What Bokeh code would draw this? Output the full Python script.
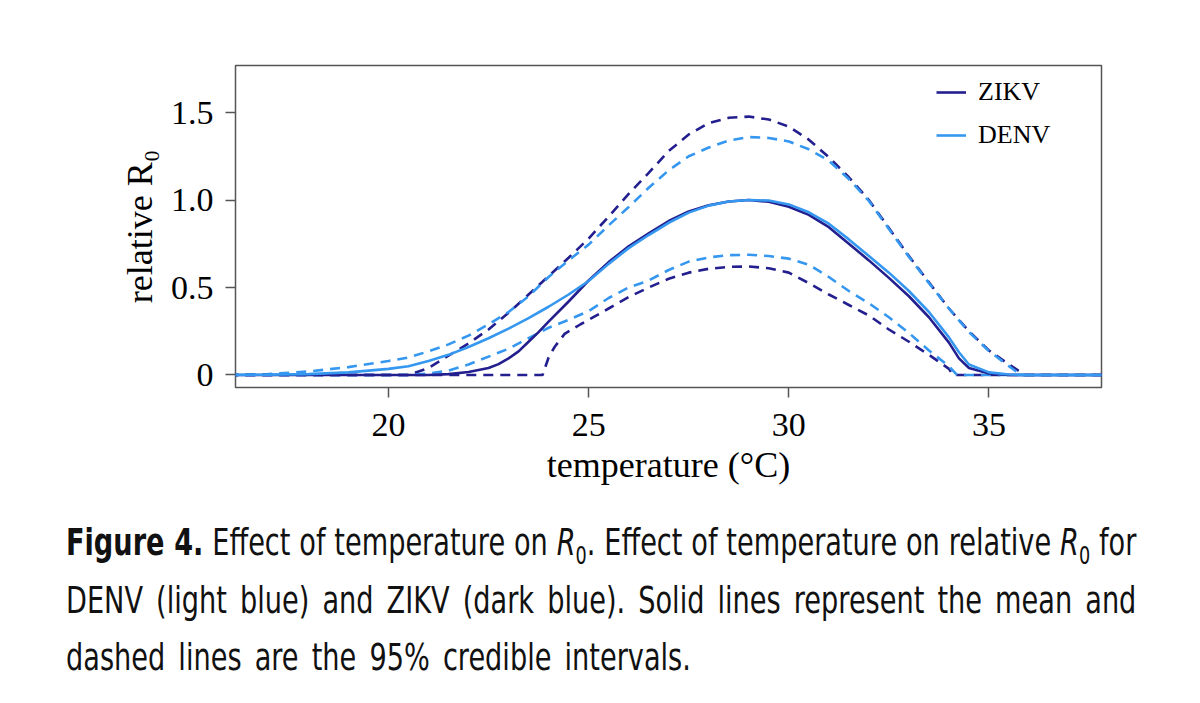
from bokeh.plotting import figure
from bokeh.models import (Range1d, FixedTicker, CustomJSTickFormatter, Legend,
                          LegendItem, Div)
from bokeh.layouts import column
from bokeh.embed import file_html
from bokeh.resources import INLINE

# ---------------- data ----------------
x_ticks = [20, 25, 30, 35]
y_ticks = [0, 0.5, 1.0, 1.5]

# ZIKV mean
zm_t = [16, 21, 21.5, 22, 22.5, 22.75, 23, 23.25, 23.5, 23.75, 24, 24.5, 25, 25.5, 26, 26.5,
        27, 27.5, 28, 28.5, 29, 29.5, 30, 30.5, 31, 31.5, 32, 32.5, 33, 33.5, 34, 34.25,
        34.5, 35, 35.5, 38]
zm_r = [0, 0, 0.005, 0.017, 0.04, 0.062, 0.095, 0.135, 0.19, 0.245, 0.305, 0.42, 0.54,
        0.645, 0.735, 0.81, 0.88, 0.935, 0.97, 0.992, 1.0, 0.99, 0.962, 0.915, 0.845, 0.75,
        0.655, 0.555, 0.45, 0.33, 0.185, 0.095, 0.04, 0.008, 0, 0]

# DENV mean
dm_t = [16, 17, 18, 19, 20, 20.5, 21, 21.5, 22, 22.5, 23, 23.5, 24, 24.5, 25, 25.5, 26,
        26.5, 27, 27.5, 28, 28.5, 29, 29.5, 30, 30.5, 31, 31.5, 32, 32.5, 33, 33.5, 34,
        34.25, 34.5, 35, 35.5, 36, 38]
dm_r = [0, 0.002, 0.005, 0.015, 0.035, 0.05, 0.08, 0.115, 0.16, 0.21, 0.265, 0.325, 0.39,
        0.46, 0.537, 0.635, 0.725, 0.80, 0.87, 0.928, 0.968, 0.992, 1.0, 0.997, 0.975, 0.93,
        0.865, 0.775, 0.68, 0.585, 0.48, 0.36, 0.215, 0.13, 0.06, 0.015, 0.003, 0, 0]

# ZIKV upper 95% CI
zu_t = [16, 20.5, 21, 21.5, 22, 22.5, 23, 23.5, 24, 24.5, 25, 25.5, 26, 26.5, 27, 27.5, 28,
        28.5, 29, 29.5, 30, 30.5, 31, 31.5, 32, 32.5, 33, 33.5, 34, 34.5, 35, 35.5, 35.9, 38]
zu_r = [0, 0, 0.04, 0.11, 0.18, 0.26, 0.355, 0.46, 0.565, 0.67, 0.78, 0.905, 1.035, 1.155,
        1.28, 1.375, 1.44, 1.47, 1.477, 1.46, 1.42, 1.345, 1.245, 1.13, 1.0, 0.84, 0.68,
        0.53, 0.38, 0.25, 0.14, 0.06, 0, 0]

# DENV upper 95% CI
du_t = [16, 17, 18, 19, 20, 20.5, 21, 21.5, 22, 22.5, 23, 23.5, 24, 24.5, 25, 25.5, 26,
        26.5, 27, 27.5, 28, 28.5, 29, 29.5, 30, 30.5, 31, 31.5, 32, 32.5, 33, 33.5, 34,
        34.5, 35, 35.5, 35.8, 38]
du_r = [0, 0.005, 0.02, 0.045, 0.08, 0.1, 0.135, 0.175, 0.225, 0.29, 0.36, 0.45, 0.56,
        0.655, 0.745, 0.855, 0.96, 1.07, 1.17, 1.25, 1.30, 1.34, 1.36, 1.355, 1.335, 1.29,
        1.225, 1.12, 0.995, 0.835, 0.675, 0.525, 0.38, 0.245, 0.137, 0.05, 0, 0]

# DENV lower 95% CI
dl_t = [16, 20.5, 21, 21.5, 22, 22.5, 23, 23.5, 24, 24.5, 25, 25.5, 26, 26.5, 27, 27.5,
        28, 28.5, 29, 29.5, 30, 30.5, 31, 31.5, 32, 32.5, 33, 33.5, 34, 34.2, 38]
dl_r = [0, 0, 0.008, 0.025, 0.06, 0.105, 0.15, 0.21, 0.27, 0.315, 0.365, 0.44, 0.50, 0.54,
        0.60, 0.648, 0.672, 0.685, 0.687, 0.68, 0.665, 0.63, 0.56, 0.48, 0.41, 0.33, 0.24,
        0.14, 0.05, 0, 0]

# ZIKV lower 95% CI
zl_t = [16, 23.85, 24.0, 24.15, 24.4, 24.8, 25, 25.5, 26, 26.5, 27, 27.5, 28, 28.5, 29,
        29.5, 30, 30.5, 31, 31.5, 32, 32.5, 33, 33.5, 34, 34.1, 38]
zl_r = [0, 0, 0.1, 0.16, 0.235, 0.29, 0.315, 0.38, 0.445, 0.50, 0.55, 0.585, 0.607, 0.618,
        0.62, 0.61, 0.585, 0.525, 0.46, 0.40, 0.34, 0.26, 0.19, 0.115, 0.035, 0, 0]

ZIKV_COLOR = "#231f8e"
DENV_COLOR = "#3597ef"
SERIF = "Liberation Serif"

# ---------------- figure ----------------
p = figure(width=1184, height=508, output_backend="svg", toolbar_location=None,
           x_range=Range1d(16.18, 37.81), y_range=Range1d(-0.0716, 1.769),
           min_border_left=235, min_border_right=83, min_border_top=65,
           min_border_bottom=121)
p.background_fill_color = "white"
p.border_fill_color = "white"
p.outline_line_color = "#555555"
p.outline_line_width = 1.5
p.xgrid.visible = False
p.ygrid.visible = False

lw = 2.6
dash = "10 7"
p.line(zu_t, zu_r, color=ZIKV_COLOR, line_width=lw, line_dash=dash)
p.line(zl_t, zl_r, color=ZIKV_COLOR, line_width=lw, line_dash=dash)
p.line(du_t, du_r, color=DENV_COLOR, line_width=lw, line_dash=dash)
p.line(dl_t, dl_r, color=DENV_COLOR, line_width=lw, line_dash=dash)
zm = p.line(zm_t, zm_r, color=ZIKV_COLOR, line_width=lw)
dm = p.line(dm_t, dm_r, color=DENV_COLOR, line_width=lw)

for ax in (p.xaxis[0], p.yaxis[0]):
    ax.axis_line_color = None
    ax.major_tick_line_color = "#555555"
    ax.major_tick_line_width = 1.5
    ax.major_tick_out = 10
    ax.major_tick_in = 0
    ax.minor_tick_line_color = None
    ax.major_label_text_font = SERIF
    ax.major_label_text_font_size = "34px"
    ax.major_label_text_color = "black"
    ax.axis_label_text_font = SERIF
    ax.axis_label_text_font_size = "36px"
    ax.axis_label_text_font_style = "normal"
    ax.axis_label_text_color = "black"

p.xaxis.ticker = FixedTicker(ticks=x_ticks)
p.yaxis.ticker = FixedTicker(ticks=y_ticks)
p.yaxis.formatter = CustomJSTickFormatter(code="return tick == 0 ? '0' : tick.toFixed(1);")
p.xaxis.axis_label = "temperature (°C)"
p.yaxis.axis_label = "relative R₀"
p.xaxis.major_label_standoff = 16
p.xaxis.axis_label_standoff = 6
p.yaxis.major_label_standoff = 12
p.yaxis.axis_label_standoff = 8

legend = Legend(items=[LegendItem(label="ZIKV", renderers=[zm]),
                       LegendItem(label="DENV", renderers=[dm])],
                location=(701, 237), padding=0, margin=0, spacing=13,
                glyph_width=30, glyph_height=20, label_standoff=12,
                label_text_font=SERIF, label_text_font_size="26px",
                label_text_color="black",
                border_line_color=None, background_fill_alpha=0)
p.add_layout(legend, "center")

caption = Div(width=1184, height=195, text="""
<div style="margin-left:61px; padding-top:1px; width:1497px;
 transform:scaleX(0.715); transform-origin:0 0;
 font-family:'DejaVu Sans',sans-serif; font-size:38px; line-height:57.7px; color:#111;">
<div style="text-align:justify; text-align-last:justify; white-space:nowrap;"><b>Figure 4.</b> Effect of temperature on <i>R</i><sub style="font-size:65%;line-height:0;">0</sub>. Effect of temperature on relative <i>R</i><sub style="font-size:65%;line-height:0;">0</sub> for</div>
<div style="text-align:justify; text-align-last:justify; white-space:nowrap;">DENV (light blue) and ZIKV (dark blue). Solid lines represent the mean and</div>
<div style="width:874px; text-align:justify; text-align-last:justify; white-space:nowrap;">dashed lines are the 95% credible intervals.</div>
</div>
""")

layout = column(p, caption, spacing=0)
open("out.html", "w").write(file_html(layout, INLINE))
